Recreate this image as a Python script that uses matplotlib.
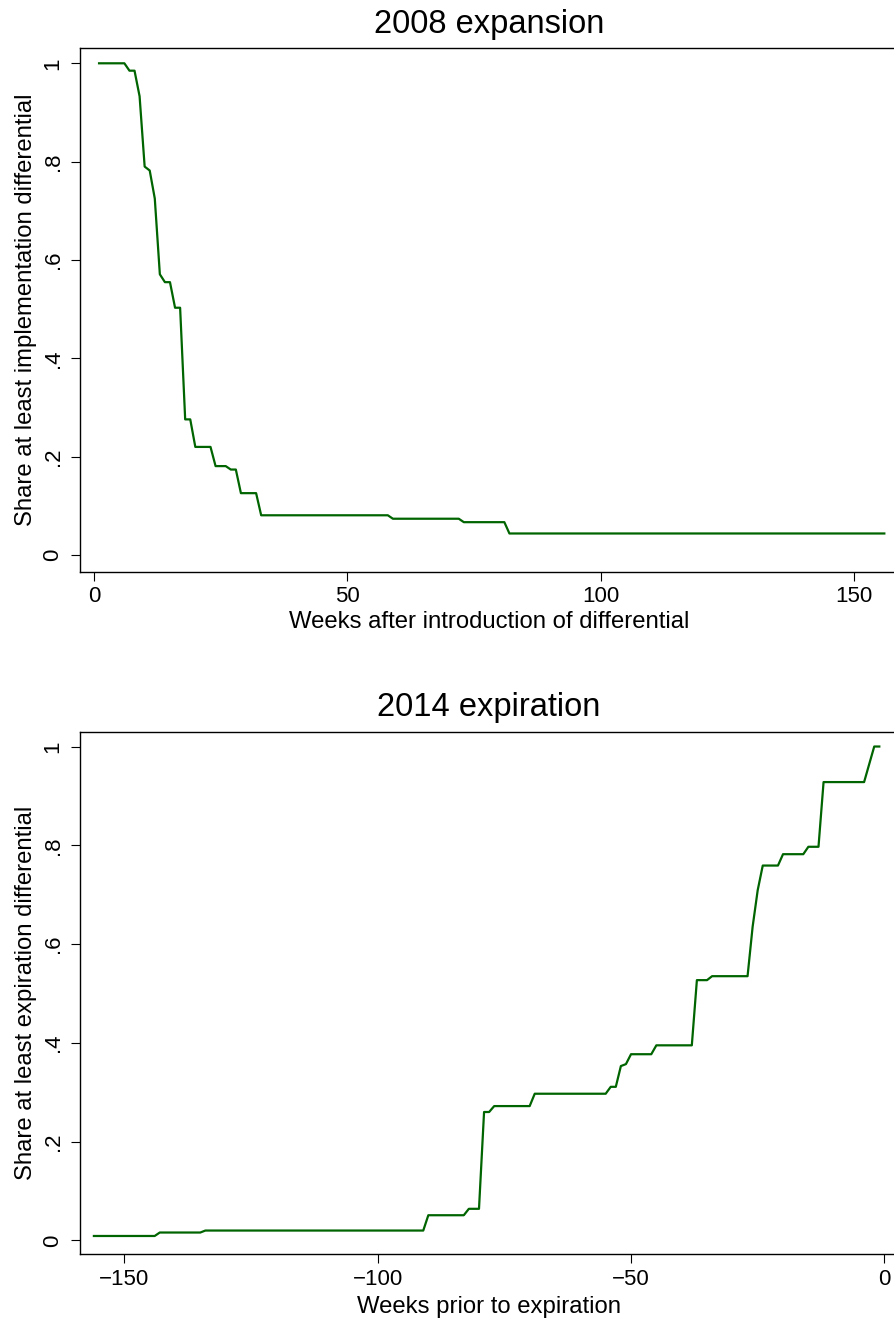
import matplotlib
matplotlib.use("Agg")
import matplotlib.pyplot as plt

plt.rcParams['font.family'] = ['Liberation Sans', 'DejaVu Sans']

# ---- data (vertices of the weekly series) ----
weeks_2008 = [1, 6, 7, 8, 9, 10, 11, 12, 13, 14, 15, 16, 17, 18, 19, 20, 23, 24, 26,
              27, 28, 29, 32, 33, 58, 59, 72, 73, 81, 82, 156]
share_2008 = [1.0, 1.0, 0.985, 0.985, 0.933, 0.790, 0.782, 0.725, 0.571, 0.555, 0.555,
              0.503, 0.503, 0.276, 0.276, 0.220, 0.220, 0.181, 0.181, 0.174, 0.174,
              0.126, 0.126, 0.081, 0.081, 0.074, 0.074, 0.067, 0.067, 0.044, 0.044]

weeks_2014 = [-156, -144, -143, -135, -134, -91, -90, -83, -82, -80, -79, -78, -77, -70,
              -69, -55, -54, -53, -52, -51, -50, -46, -45, -38, -37, -35, -34, -27, -26,
              -25, -24, -21, -20, -16, -15, -13, -12, -4, -3, -2, -1]
share_2014 = [0.009, 0.009, 0.016, 0.016, 0.020, 0.020, 0.051, 0.051, 0.064, 0.064,
              0.260, 0.260, 0.272, 0.272, 0.297, 0.297, 0.311, 0.311, 0.353, 0.357,
              0.377, 0.377, 0.395, 0.395, 0.527, 0.527, 0.535, 0.535, 0.635, 0.709,
              0.759, 0.759, 0.782, 0.782, 0.797, 0.797, 0.928, 0.928, 0.964, 1.0, 1.0]

yticks = [0, 0.2, 0.4, 0.6, 0.8, 1.0]
ytick_labels = ["0", ".2", ".4", ".6", ".8", "1"]
xticks_2008 = [0, 50, 100, 150]
xticks_2014 = [-150, -100, -50, 0]

LINE_COLOR = '#006400'
W, H = 894, 1319
TICK_FS = 16
LABEL_FS = 17.2
TITLE_FS = 23.5

fig = plt.figure(figsize=(W / 100, H / 100), dpi=100)
fig.patch.set_facecolor('white')


def make_axes(left, top, right, bottom):
    return fig.add_axes([left / W, 1 - bottom / H, (right - left) / W, (bottom - top) / H])


def style(ax):
    for s in ax.spines.values():
        s.set_linewidth(1.0)
        s.set_color('black')
    ax.tick_params(direction='out', length=6.5, width=0.8, labelsize=TICK_FS, colors='black')
    ax.tick_params(axis='x', pad=4)
    ax.tick_params(axis='y', pad=5)
    ax.set_yticks(yticks)
    ax.set_yticklabels(ytick_labels, rotation=90, va='center')


ax1 = make_axes(79.5, 48.3, 898, 571.5)
ax1.plot(weeks_2008, share_2008, color=LINE_COLOR, lw=1.6)
ax1.set_xlim(-2.86, 158.7)
ax1.set_ylim(-0.0333, 1.0305)
style(ax1)
ax1.set_xticks(xticks_2008)
ax1.set_xticklabels([str(v) for v in xticks_2008])
ax1.set_title("2008 expansion", fontsize=TITLE_FS, pad=11)
ax1.set_xlabel("Weeks after introduction of differential", fontsize=LABEL_FS, labelpad=3)
ax1.set_ylabel("Share at least implementation differential", fontsize=LABEL_FS, labelpad=4)

ax2 = make_axes(79.5, 731.7, 898, 1254.4)
ax2.plot(weeks_2014, share_2014, color=LINE_COLOR, lw=1.6)
ax2.set_xlim(-158.84, 2.69)
ax2.set_ylim(-0.0283, 1.030)
style(ax2)
ax2.set_xticks(xticks_2014)
ax2.set_xticklabels(["\u2212150", "\u2212100", "\u221250", "0"])
ax2.set_title("2014 expiration", fontsize=TITLE_FS, pad=11)
ax2.set_xlabel("Weeks prior to expiration", fontsize=LABEL_FS, labelpad=4)
ax2.set_ylabel("Share at least expiration differential", fontsize=LABEL_FS, labelpad=4)

fig.savefig("out.png", dpi=100)
